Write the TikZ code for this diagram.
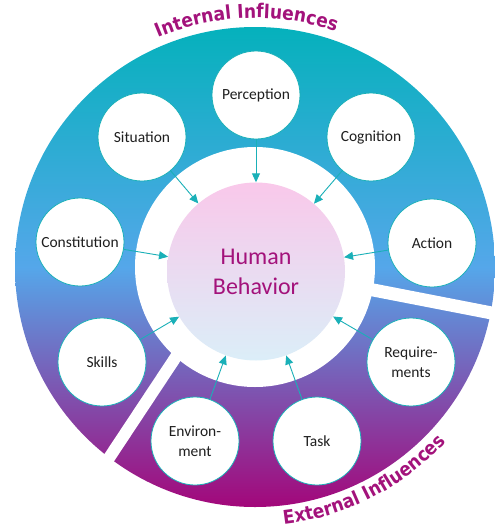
\documentclass[tikz,border=0pt]{standalone}
\usepackage{fontspec}
\setmainfont{Carlito}
\newfontfamily\titlefont[FakeStretch=0.9]{DejaVu Sans}
\usetikzlibrary{arrows.meta,decorations.text,calc}
\definecolor{teal1}{HTML}{05B1BC}
\definecolor{sky1}{HTML}{55A7EA}
\definecolor{purp1}{HTML}{7E62BD}
\definecolor{mag1}{HTML}{A3077A}
\definecolor{edge1}{HTML}{1AB0B8}
\definecolor{txtmag}{HTML}{A3127B}
\definecolor{pink1}{HTML}{F9C8EA}
\definecolor{lav1}{HTML}{E6DEF1}
\definecolor{ice1}{HTML}{DBEEF8}
\begin{document}
\begin{tikzpicture}[x=1pt,y=1pt,
  factor/.style={circle, draw=edge1, line width=0.8pt, fill=white, minimum size=88pt,
    inner sep=0pt, align=center, font=\fontsize{15.5}{19.5}\selectfont, text=black!88},
  arr/.style={draw=edge1, line width=0.9pt, -{Triangle[length=9pt,width=8pt]}},
  gapline/.style={draw=white, line width=13pt},
  titletext/.style={decorate, decoration={text along path, text align=center,
    text={|\titlefont\bfseries\fontsize{19}{22}\selectfont\color{txtmag}|#1}}}
]
\useasboundingbox (0,0) rectangle (495,-531);
\coordinate (C) at (255,-267);
% ring
\begin{scope}
  \clip (C) circle (240);
  \shade[top color=teal1, bottom color=sky1] (0,-27) rectangle (495,-268);
  \shade[top color=sky1, middle color=purp1, bottom color=mag1] (0,-267) rectangle (495,-507);
\end{scope}
\fill[white] (C) circle (120);
% gaps
\coordinate (g1a) at ($(C)+(-11:112)$);
\coordinate (g1b) at ($(C)+(-11:262)$);
\draw[gapline] (g1a) -- (g1b);
\coordinate (g2a) at (183.8,-345);
\coordinate (g2b) at (92.7,-482.6);
\draw[gapline, line width=12pt] (g2a) -- (g2b);
% center
\node[circle, minimum size=178pt, inner sep=0pt, top color=pink1, middle color=lav1,
  bottom color=ice1, align=center, text=txtmag, font=\fontsize{24}{30}\selectfont]
  (hb) at (256,-271.5) {Human\\Behavior};
% factors
\node[factor] (per) at (256,-95) {Perception};
\node[factor] (sit) at (142,-137) {Situation};
\node[factor] (cog) at (371,-137) {Cognition};
\node[factor] (con) at (80,-242) {Constitution};
\node[factor] (act) at (432,-243) {Action};
\node[factor] (ski) at (102,-362) {Skills};
\node[factor] (req) at (411,-362) {Require-\\ments};
\node[factor] (env) at (195,-441) {Environ-\\ment};
\node[factor] (tas) at (317,-441) {Task};
\foreach \n in {per,sit,cog,con,act,ski,req,env,tas}
  \draw[arr] (\n) -- (hb);
% titles
\path[titletext={Internal Influences}] ($(C)+(122:249)$) arc[start angle=122, end angle=62, radius=249];
\path[titletext={External Influences}] ($(C)+(-95:259)$) arc[start angle=-95, end angle=-31, radius=259];
\end{tikzpicture}
\end{document}
